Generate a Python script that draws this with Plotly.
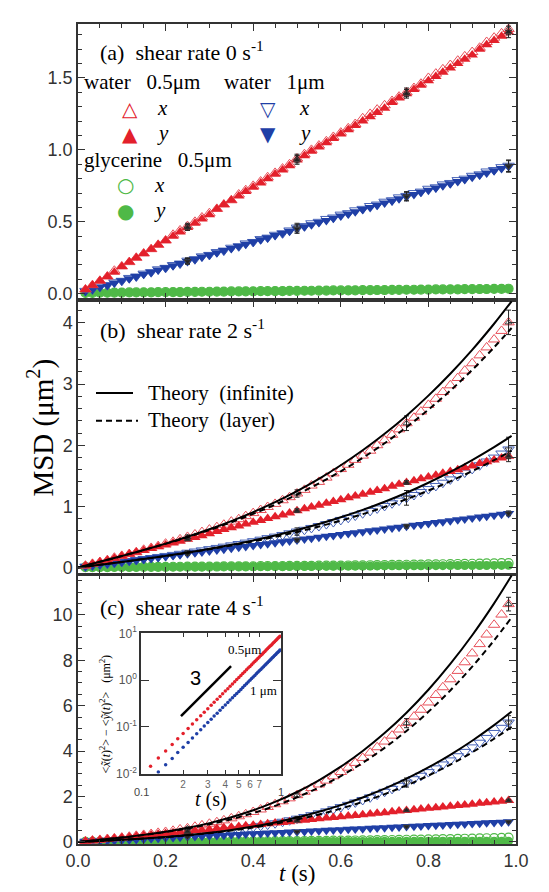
import plotly.graph_objects as go

# ---------------- data ----------------
t = [0.017, 0.033, 0.050, 0.067, 0.083, 0.100, 0.117, 0.133, 0.150, 0.167,
     0.183, 0.200, 0.217, 0.233, 0.250, 0.267, 0.283, 0.300, 0.317, 0.333,
     0.350, 0.367, 0.383, 0.400, 0.417, 0.433, 0.450, 0.467, 0.483, 0.500,
     0.517, 0.533, 0.550, 0.567, 0.583, 0.600, 0.617, 0.633, 0.650, 0.667,
     0.683, 0.700, 0.717, 0.733, 0.750, 0.767, 0.783, 0.800, 0.817, 0.833,
     0.850, 0.867, 0.883, 0.900, 0.917, 0.933, 0.950, 0.967, 0.983]

# water 0.5 um, y direction (same in all panels)
red_y = [0.03, 0.06, 0.09, 0.12, 0.15, 0.19, 0.22, 0.25, 0.28, 0.31,
         0.34, 0.37, 0.40, 0.43, 0.46, 0.49, 0.52, 0.55, 0.59, 0.62,
         0.65, 0.68, 0.71, 0.74, 0.77, 0.80, 0.83, 0.86, 0.89, 0.93,
         0.96, 0.99, 1.02, 1.05, 1.08, 1.11, 1.14, 1.17, 1.20, 1.23,
         1.26, 1.29, 1.33, 1.36, 1.39, 1.42, 1.45, 1.48, 1.51, 1.54,
         1.57, 1.60, 1.63, 1.66, 1.70, 1.73, 1.76, 1.79, 1.82]
# water 0.5 um, x direction, shear 0
red_x_a = [0.03, 0.06, 0.09, 0.12, 0.16, 0.19, 0.22, 0.25, 0.28, 0.31,
           0.34, 0.37, 0.41, 0.44, 0.47, 0.50, 0.53, 0.56, 0.59, 0.62,
           0.65, 0.69, 0.72, 0.75, 0.78, 0.81, 0.84, 0.87, 0.90, 0.94,
           0.97, 1.00, 1.03, 1.06, 1.09, 1.12, 1.15, 1.18, 1.22, 1.25,
           1.28, 1.31, 1.34, 1.37, 1.40, 1.43, 1.46, 1.50, 1.53, 1.56,
           1.59, 1.62, 1.65, 1.68, 1.71, 1.75, 1.78, 1.81, 1.84]
# water 0.5 um, x direction, shear 2
red_x_b = [0.03, 0.06, 0.09, 0.12, 0.16, 0.19, 0.22, 0.25, 0.29, 0.32,
           0.35, 0.39, 0.42, 0.46, 0.50, 0.54, 0.58, 0.62, 0.66, 0.70,
           0.75, 0.79, 0.84, 0.89, 0.94, 0.99, 1.04, 1.10, 1.15, 1.21,
           1.27, 1.34, 1.40, 1.47, 1.54, 1.61, 1.68, 1.76, 1.83, 1.91,
           2.00, 2.08, 2.17, 2.26, 2.36, 2.45, 2.55, 2.66, 2.76, 2.87,
           2.98, 3.10, 3.22, 3.34, 3.47, 3.60, 3.73, 3.87, 4.01]
# water 0.5 um, x direction, shear 4
red_x_c = [0.03, 0.06, 0.09, 0.13, 0.16, 0.19, 0.23, 0.27, 0.31, 0.35,
           0.40, 0.44, 0.49, 0.55, 0.60, 0.67, 0.73, 0.80, 0.87, 0.95,
           1.04, 1.13, 1.22, 1.32, 1.43, 1.54, 1.66, 1.79, 1.92, 2.06,
           2.21, 2.37, 2.53, 2.70, 2.89, 3.08, 3.27, 3.48, 3.70, 3.93,
           4.17, 4.42, 4.68, 4.95, 5.23, 5.52, 5.82, 6.14, 6.47, 6.81,
           7.16, 7.53, 7.91, 8.30, 8.71, 9.13, 9.56, 10.01, 10.47]

# water 1 um, y direction
blue_y = [0.015, 0.030, 0.045, 0.060, 0.075, 0.090, 0.105, 0.120, 0.135, 0.150,
          0.165, 0.180, 0.195, 0.210, 0.225, 0.240, 0.255, 0.270, 0.285, 0.300,
          0.315, 0.330, 0.345, 0.360, 0.375, 0.390, 0.405, 0.420, 0.435, 0.450,
          0.465, 0.480, 0.495, 0.510, 0.525, 0.540, 0.555, 0.570, 0.585, 0.600,
          0.615, 0.630, 0.645, 0.660, 0.675, 0.690, 0.705, 0.720, 0.735, 0.750,
          0.765, 0.780, 0.795, 0.810, 0.825, 0.840, 0.855, 0.870, 0.885]
blue_x_a = [0.02, 0.03, 0.05, 0.06, 0.08, 0.09, 0.11, 0.12, 0.14, 0.15,
            0.17, 0.18, 0.20, 0.21, 0.23, 0.24, 0.26, 0.27, 0.29, 0.30,
            0.32, 0.33, 0.35, 0.36, 0.38, 0.39, 0.41, 0.42, 0.44, 0.46,
            0.47, 0.49, 0.50, 0.52, 0.53, 0.55, 0.56, 0.58, 0.59, 0.61,
            0.62, 0.64, 0.65, 0.67, 0.68, 0.70, 0.71, 0.73, 0.74, 0.76,
            0.77, 0.79, 0.80, 0.82, 0.83, 0.85, 0.86, 0.88, 0.89]
blue_x_b = [0.015, 0.030, 0.045, 0.060, 0.076, 0.091, 0.107, 0.123, 0.139, 0.155,
            0.172, 0.189, 0.206, 0.224, 0.242, 0.261, 0.280, 0.300, 0.320, 0.341,
            0.362, 0.384, 0.407, 0.430, 0.455, 0.480, 0.505, 0.532, 0.559, 0.588,
            0.617, 0.647, 0.678, 0.710, 0.743, 0.778, 0.813, 0.849, 0.887, 0.926,
            0.966, 1.007, 1.050, 1.094, 1.139, 1.186, 1.234, 1.283, 1.334, 1.387,
            1.441, 1.496, 1.553, 1.612, 1.672, 1.734, 1.798, 1.864, 1.931]
blue_x_c = [0.015, 0.030, 0.046, 0.061, 0.078, 0.095, 0.112, 0.131, 0.151, 0.171,
            0.193, 0.217, 0.242, 0.268, 0.297, 0.327, 0.360, 0.394, 0.431, 0.470,
            0.512, 0.557, 0.604, 0.654, 0.708, 0.764, 0.824, 0.888, 0.954, 1.025,
            1.099, 1.178, 1.260, 1.347, 1.438, 1.534, 1.634, 1.739, 1.848, 1.963,
            2.083, 2.208, 2.338, 2.474, 2.616, 2.763, 2.916, 3.075, 3.240, 3.412,
            3.590, 3.774, 3.966, 4.163, 4.368, 4.580, 4.799, 5.025, 5.259]

# glycerine 0.5 um
green_y = [0.006, 0.006, 0.007, 0.007, 0.008, 0.008, 0.009, 0.009, 0.010, 0.010,
           0.011, 0.011, 0.012, 0.012, 0.013, 0.013, 0.014, 0.014, 0.015, 0.015,
           0.016, 0.016, 0.017, 0.017, 0.018, 0.018, 0.019, 0.019, 0.020, 0.020,
           0.021, 0.021, 0.022, 0.022, 0.023, 0.023, 0.024, 0.024, 0.025, 0.025,
           0.026, 0.026, 0.027, 0.027, 0.028, 0.028, 0.029, 0.029, 0.030, 0.030,
           0.031, 0.031, 0.032, 0.032, 0.033, 0.033, 0.034, 0.034, 0.035]
green_x_a = green_y
green_x_b = [0.006, 0.006, 0.007, 0.007, 0.008, 0.008, 0.009, 0.009, 0.010, 0.010,
             0.011, 0.011, 0.012, 0.012, 0.014, 0.014, 0.015, 0.015, 0.016, 0.017,
             0.018, 0.018, 0.019, 0.020, 0.021, 0.021, 0.023, 0.023, 0.025, 0.025,
             0.027, 0.027, 0.029, 0.029, 0.031, 0.032, 0.033, 0.034, 0.036, 0.037,
             0.039, 0.040, 0.042, 0.043, 0.045, 0.046, 0.048, 0.050, 0.052, 0.053,
             0.056, 0.057, 0.060, 0.061, 0.064, 0.066, 0.068, 0.070, 0.073]
green_x_c = [0.006, 0.006, 0.007, 0.007, 0.008, 0.008, 0.009, 0.009, 0.010, 0.011,
             0.012, 0.012, 0.014, 0.014, 0.016, 0.016, 0.018, 0.018, 0.020, 0.021,
             0.023, 0.024, 0.026, 0.027, 0.030, 0.031, 0.034, 0.035, 0.038, 0.040,
             0.043, 0.045, 0.049, 0.051, 0.055, 0.058, 0.062, 0.065, 0.069, 0.072,
             0.077, 0.081, 0.086, 0.090, 0.096, 0.100, 0.106, 0.111, 0.117, 0.123,
             0.129, 0.135, 0.142, 0.149, 0.156, 0.163, 0.171, 0.179, 0.187]

# error bars at selected frames
err_idx = [14, 29, 44, 58]
err_small = [0.02, 0.03, 0.03, 0.04]
err_x_b = [0.03, 0.06, 0.12, 0.20]
err_x_c = [0.05, 0.10, 0.20, 0.30]

# theory curves
th_t = [0.0, 0.05, 0.10, 0.15, 0.20, 0.25, 0.30, 0.35, 0.40, 0.45, 0.50,
        0.55, 0.60, 0.65, 0.70, 0.75, 0.80, 0.85, 0.90, 0.95, 0.99]
th_red_inf_b = [0.0, 0.093, 0.188, 0.286, 0.391, 0.503, 0.625, 0.759, 0.906, 1.069, 1.250,
                1.450, 1.672, 1.917, 2.187, 2.484, 2.811, 3.169, 3.560, 3.987, 4.354]
th_red_lay_b = [0.0, 0.093, 0.187, 0.285, 0.387, 0.496, 0.613, 0.740, 0.878, 1.028, 1.194,
                1.375, 1.574, 1.793, 2.032, 2.295, 2.581, 2.893, 3.232, 3.601, 3.918]
th_blue_inf_b = [0.0, 0.045, 0.091, 0.139, 0.190, 0.245, 0.305, 0.371, 0.443, 0.524, 0.613,
                 0.711, 0.821, 0.942, 1.076, 1.223, 1.386, 1.563, 1.758, 1.970, 2.152]
th_blue_lay_b = [0.0, 0.045, 0.091, 0.139, 0.188, 0.241, 0.298, 0.360, 0.427, 0.501, 0.581,
                 0.670, 0.767, 0.873, 0.990, 1.118, 1.258, 1.410, 1.576, 1.755, 1.910]
th_red_inf_c = [0.0, 0.094, 0.195, 0.312, 0.452, 0.622, 0.830, 1.085, 1.393, 1.762, 2.200,
                2.715, 3.313, 4.004, 4.794, 5.691, 6.702, 7.837, 9.101, 10.503, 11.729]
th_red_lay_c = [0.0, 0.094, 0.193, 0.306, 0.436, 0.592, 0.779, 1.003, 1.271, 1.589, 1.963,
                2.398, 2.903, 3.482, 4.142, 4.889, 5.730, 6.670, 7.716, 8.874, 9.885]
th_blue_inf_c = [0.0, 0.046, 0.095, 0.152, 0.220, 0.303, 0.405, 0.529, 0.680, 0.861, 1.075,
                 1.327, 1.620, 1.958, 2.345, 2.784, 3.280, 3.836, 4.455, 5.142, 5.743]
th_blue_lay_c = [0.0, 0.046, 0.094, 0.150, 0.214, 0.292, 0.386, 0.499, 0.635, 0.797, 0.988,
                 1.210, 1.469, 1.766, 2.105, 2.489, 2.922, 3.406, 3.945, 4.542, 5.063]

# inset: <x^2> - <y^2>, shear 4, log-log
inset_t = t[5:]
inset_red = [0.0091, 0.0145, 0.0216, 0.0307, 0.0421, 0.0561, 0.0728, 0.0926, 0.1156, 0.1422,
             0.1726, 0.2070, 0.2457, 0.2890, 0.3370, 0.3902, 0.4486, 0.5126, 0.5824, 0.6583,
             0.7405, 0.8292, 0.9248, 1.0275, 1.1375, 1.2551, 1.3805, 1.5140, 1.6559, 1.8063,
             1.9656, 2.1340, 2.3117, 2.4991, 2.6963, 2.9036, 3.1213, 3.3496, 3.5888, 3.8391,
             4.1007, 4.3740, 4.6592, 4.9565, 5.2662, 5.5885, 5.9238, 6.2721, 6.6339, 7.0093,
             7.3986, 7.8021, 8.2200, 8.6525]
inset_blue = [0.0046, 0.0073, 0.0109, 0.0155, 0.0213, 0.0284, 0.0368, 0.0468, 0.0584, 0.0719,
              0.0872, 0.1046, 0.1242, 0.1461, 0.1704, 0.1972, 0.2268, 0.2591, 0.2944, 0.3328,
              0.3743, 0.4192, 0.4675, 0.5194, 0.5750, 0.6344, 0.6978, 0.7653, 0.8370, 0.9131,
              0.9936, 1.0787, 1.1686, 1.2633, 1.3630, 1.4678, 1.5778, 1.6932, 1.8141, 1.9406,
              2.0729, 2.2111, 2.3552, 2.5055, 2.6620, 2.8250, 2.9944, 3.1705, 3.3534, 3.5432,
              3.7400, 3.9439, 4.1552, 4.3738]
slope_t = [0.193, 0.44]
slope_v = [0.171, 1.99]
inset_xticks = [0.2, 0.3, 0.4, 0.5, 0.6, 0.7]
inset_xticktext = ["2", "3", "4", "5", "6", "7"]
inset_yticks = [0.01, 0.1, 1, 10]
inset_yticktext = ["10<sup>-2</sup>", "10<sup>-1</sup>", "10<sup>0</sup>", "10<sup>1</sup>"]

# ---------------- style ----------------
RED = "#e3202b"
RED_O = "#e8505a"
BLUE = "#1f3fa6"
BLUE_O = "#4662b8"
GREEN = "#4fb947"
SERIF = "Liberation Serif"
SANS = "Liberation Sans"

W, H = 549, 892
ML, MR, MT, MB = 70, 41, 7, 56
PW, PH = W - ML - MR, H - MT - MB


def px_x(p):
    return (p - ML) / PW


def px_y(p):
    return (H - MB - p) / PH


fig = go.Figure()

MS = 10
panels = [
    ("x", "y", red_x_a, blue_x_a, green_x_a, err_small),
    ("x2", "y2", red_x_b, blue_x_b, green_x_b, err_x_b),
    ("x3", "y3", red_x_c, blue_x_c, green_x_c, err_x_c),
]
for xa, ya, rx, bx, gx, ex in panels:
    fig.add_trace(go.Scatter(x=t, y=gx, mode="markers", xaxis=xa, yaxis=ya,
                             marker=dict(symbol="circle-open", size=9, color=GREEN, line=dict(width=1.2))))
    fig.add_trace(go.Scatter(x=t, y=green_y, mode="markers", xaxis=xa, yaxis=ya,
                             marker=dict(symbol="circle", size=9, color=GREEN)))
    fig.add_trace(go.Scatter(x=t, y=bx, mode="markers", xaxis=xa, yaxis=ya,
                             marker=dict(symbol="triangle-down-open", size=MS, color=BLUE_O, line=dict(width=1))))
    fig.add_trace(go.Scatter(x=t, y=blue_y, mode="markers", xaxis=xa, yaxis=ya,
                             marker=dict(symbol="triangle-down", size=MS, color=BLUE)))
    fig.add_trace(go.Scatter(x=t, y=rx, mode="markers", xaxis=xa, yaxis=ya,
                             marker=dict(symbol="triangle-up-open", size=MS, color=RED_O, line=dict(width=1))))
    fig.add_trace(go.Scatter(x=t, y=red_y, mode="markers", xaxis=xa, yaxis=ya,
                             marker=dict(symbol="triangle-up", size=MS, color=RED)))
    # error bars
    for series, sym, err in [(rx, "triangle-up-open", ex), (bx, "triangle-down-open", ex),
                             (red_y, "triangle-up", err_small), (blue_y, "triangle-down", err_small)]:
        fig.add_trace(go.Scatter(x=[t[i] for i in err_idx], y=[series[i] for i in err_idx],
                                 mode="markers", xaxis=xa, yaxis=ya,
                                 marker=dict(symbol=sym, size=6, color="#222222", line=dict(width=0.8)),
                                 error_y=dict(type="data", array=err, color="#222222",
                                              thickness=1, width=2.5)))

# theory lines
for xa, ya, ri, rl, bi, bl in [("x2", "y2", th_red_inf_b, th_red_lay_b, th_blue_inf_b, th_blue_lay_b),
                               ("x3", "y3", th_red_inf_c, th_red_lay_c, th_blue_inf_c, th_blue_lay_c)]:
    for ys, dash in [(ri, "solid"), (rl, "6px,4px"), (bi, "solid"), (bl, "6px,4px")]:
        fig.add_trace(go.Scatter(x=th_t, y=ys, mode="lines", xaxis=xa, yaxis=ya,
                                 line=dict(color="black", width=2, dash=dash, shape="spline")))

# inset traces
fig.add_trace(go.Scatter(x=inset_t, y=inset_red, mode="markers", xaxis="x4", yaxis="y4",
                         marker=dict(size=3.5, color=RED)))
fig.add_trace(go.Scatter(x=inset_t, y=inset_blue, mode="markers", xaxis="x4", yaxis="y4",
                         marker=dict(size=3.5, color=BLUE)))
fig.add_trace(go.Scatter(x=slope_t, y=slope_v, mode="lines", xaxis="x4", yaxis="y4",
                         line=dict(color="black", width=2.5)))

# ---------------- axes ----------------
axcol = "#333333"
tickfont = dict(family=SANS, size=18, color="#333333")
common_x = dict(range=[0, 1.0], dtick=0.2, ticks="inside", ticklen=7, tickwidth=1.2, tickcolor=axcol,
                minor=dict(dtick=0.05, ticks="inside", ticklen=4, tickcolor=axcol),
                mirror="ticks", showline=True, linecolor=axcol, linewidth=1.5,
                showgrid=False, zeroline=False, tickfont=tickfont, tickformat=".1f")
common_y = dict(ticks="inside", ticklen=7, tickwidth=1.2, tickcolor=axcol, mirror="ticks",
                showline=True, linecolor=axcol, linewidth=1.5, showgrid=False, zeroline=False,
                tickfont=tickfont)

fig.update_layout(
    width=W, height=H,
    margin=dict(l=ML, r=MR, t=MT, b=MB),
    plot_bgcolor="white", paper_bgcolor="white", showlegend=False,
    xaxis=dict(common_x, anchor="y", showticklabels=False),
    xaxis2=dict(common_x, anchor="y2", showticklabels=False),
    xaxis3=dict(common_x, anchor="y3", showticklabels=True),
    yaxis=dict(common_y, domain=[0.664, 1.0], range=[-0.04, 1.875], dtick=0.5, tickformat=".1f",
               minor=dict(dtick=0.1, ticks="inside", ticklen=4, tickcolor=axcol)),
    yaxis2=dict(common_y, domain=[0.329, 0.663], range=[-0.11, 4.37], dtick=1,
                minor=dict(dtick=0.2, ticks="inside", ticklen=4, tickcolor=axcol)),
    yaxis3=dict(common_y, domain=[0.0, 0.328], range=[-0.09, 11.75], dtick=2,
                minor=dict(dtick=0.5, ticks="inside", ticklen=4, tickcolor=axcol)),
    xaxis4=dict(type="log", range=[-1, 0], domain=[px_x(133), px_x(273)], anchor="y4",
                tickvals=inset_xticks, ticktext=inset_xticktext,
                tickfont=dict(family=SANS, size=10, color="#666666"),
                ticks="inside", ticklen=4, tickcolor=axcol, mirror="ticks",
                showline=True, linecolor=axcol, linewidth=1.5, showgrid=False, zeroline=False),
    yaxis4=dict(type="log", range=[-2, 1], domain=[px_y(765), px_y(623)], anchor="x4",
                tickvals=inset_yticks, ticktext=inset_yticktext,
                tickfont=dict(family=SANS, size=12, color="#555555"),
                ticks="inside", ticklen=8, tickcolor=axcol, mirror="ticks",
                showline=True, linecolor=axcol, linewidth=1.5, showgrid=False, zeroline=False),
)

# ---------------- annotations ----------------
ann = []


def text(x, y, s, size, family=SERIF, color="black", xanchor="left", angle=0):
    ann.append(dict(x=px_x(x), y=px_y(y), xref="paper", yref="paper", text=s, showarrow=False,
                    xanchor=xanchor, yanchor="middle", textangle=angle,
                    font=dict(family=family, size=size, color=color)))


text(90, 34, "(a)  shear rate 0 s<sup>-1</sup>", 22)
text(90, 315, "(b)  shear rate 2 s<sup>-1</sup>", 22)
text(90, 595, "(c)  shear rate 4 s<sup>-1</sup>", 22)

# legend panel a
text(74, 66, "water   0.5μm", 21)
text(214, 66, "water   1μm", 21)
text(74, 144, "glycerine   0.5μm", 21)
text(122, 93, "△", 20, family="DejaVu Sans", color=RED, xanchor="center")
text(122, 118, "▲", 20, family="DejaVu Sans", color=RED, xanchor="center")
text(260, 93, "▽", 20, family="DejaVu Sans", color=BLUE, xanchor="center")
text(260, 118, "▼", 20, family="DejaVu Sans", color=BLUE, xanchor="center")
text(117, 170, "○", 20, family="DejaVu Sans", color=GREEN, xanchor="center")
text(117, 196, "●", 20, family="DejaVu Sans", color=GREEN, xanchor="center")
for xx, yy, s in [(147, 92, "x"), (147, 117, "y"), (289, 92, "x"), (289, 117, "y"),
                  (144, 170, "x"), (144, 195, "y")]:
    text(xx, yy, "<i>" + s + "</i>", 21)

# theory legend panel b
text(138, 380, "Theory  (infinite)", 21)
text(138, 407, "Theory  (layer)", 21)

# axis titles
text(33, 415, "MSD (μm<sup>2</sup>)", 29, xanchor="center", angle=-90)
text(289, 866, "<i>t</i> (s)", 23, xanchor="center")

# inset labels
text(187, 668, "3", 20, family=SANS, xanchor="center")
text(218, 639, "0.5μm", 13)
text(240, 681, "1 μm", 13)
text(203, 791, "<i>t</i> (s)", 20, xanchor="center")
text(133, 783, "0.1", 11, family=SANS, color="#444444", xanchor="center")
text(273, 783, "1", 11, family=SANS, color="#444444", xanchor="center")
text(97, 705, "&lt;<i>x̃</i>(<i>t</i>)<sup>2</sup>&gt; − &lt;<i>ỹ</i>(<i>t</i>)<sup>2</sup>&gt;   (μm<sup>2</sup>)",
     12, xanchor="center", angle=-90)

fig.update_layout(annotations=ann)

# legend line samples for theory
fig.add_shape(type="line", xref="paper", yref="paper", x0=px_x(88), x1=px_x(125),
              y0=px_y(380), y1=px_y(380), line=dict(color="black", width=2))
fig.add_shape(type="line", xref="paper", yref="paper", x0=px_x(88), x1=px_x(130),
              y0=px_y(408), y1=px_y(408), line=dict(color="black", width=2, dash="6px,4px"))

fig.write_html("out.html")
